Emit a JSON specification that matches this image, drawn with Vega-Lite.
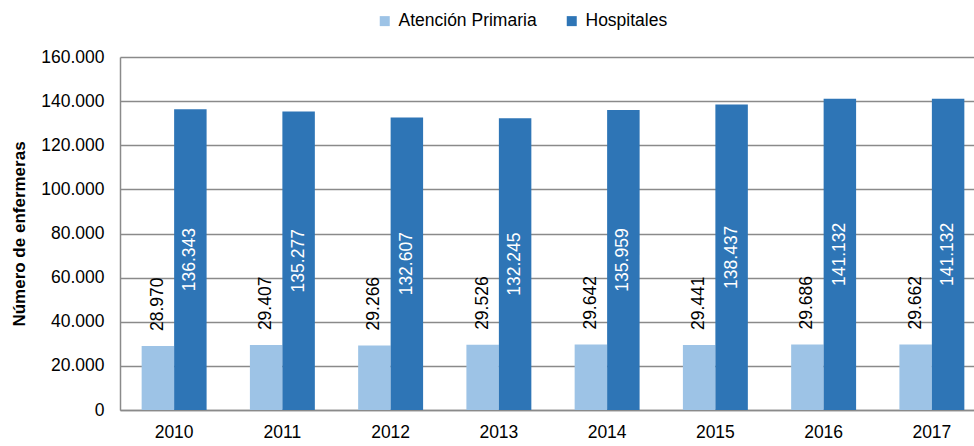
{
  "$schema": "https://vega.github.io/schema/vega-lite/v6.json",
  "width": 854,
  "height": 353,
  "autosize": {"type": "none"},
  "padding": {"left": 120, "top": 57, "right": 0, "bottom": 36},
  "background": "white",
  "config": {
    "locale": {"number": {"decimal": ",", "thousands": ".", "grouping": [3], "currency": ["", " €"]}},
    "view": {"stroke": null},
    "font": "Liberation Sans",
    "text": {"font": "Liberation Sans"}
  },
  "data": {
    "values": [
      {"year": "2010", "serie": "Atención Primaria", "valor": 28970},
      {"year": "2011", "serie": "Atención Primaria", "valor": 29407},
      {"year": "2012", "serie": "Atención Primaria", "valor": 29266},
      {"year": "2013", "serie": "Atención Primaria", "valor": 29526},
      {"year": "2014", "serie": "Atención Primaria", "valor": 29642},
      {"year": "2015", "serie": "Atención Primaria", "valor": 29441},
      {"year": "2016", "serie": "Atención Primaria", "valor": 29686},
      {"year": "2017", "serie": "Atención Primaria", "valor": 29662},
      {"year": "2010", "serie": "Hospitales", "valor": 136343},
      {"year": "2011", "serie": "Hospitales", "valor": 135277},
      {"year": "2012", "serie": "Hospitales", "valor": 132607},
      {"year": "2013", "serie": "Hospitales", "valor": 132245},
      {"year": "2014", "serie": "Hospitales", "valor": 135959},
      {"year": "2015", "serie": "Hospitales", "valor": 138437},
      {"year": "2016", "serie": "Hospitales", "valor": 141132},
      {"year": "2017", "serie": "Hospitales", "valor": 141132}
    ]
  },
  "encoding": {
    "x": {
      "field": "year",
      "type": "nominal",
      "scale": {"range": [0, 866], "paddingInner": 0.4, "paddingOuter": 0.2},
      "axis": {
        "title": null,
        "labelAngle": 0,
        "labelFontSize": 17.5,
        "labelColor": "#000000",
        "labelPadding": 13,
        "ticks": false,
        "domainColor": "#8a8a8a",
        "domainWidth": 1.5,
        "grid": false
      }
    },
    "xOffset": {"field": "serie", "type": "nominal", "scale": {"domain": ["Atención Primaria", "Hospitales"]}}
  },
  "layer": [
    {
      "mark": {"type": "bar"},
      "encoding": {
        "y": {
          "field": "valor",
          "type": "quantitative",
          "scale": {"domain": [0, 160000], "nice": false},
          "axis": {
            "values": [0, 20000, 40000, 60000, 80000, 100000, 120000, 140000, 160000],
            "format": ",.0f",
            "title": "Número de enfermeras",
            "titleFontSize": 17,
            "titleFontWeight": "bold",
            "titleColor": "#000000",
            "titlePadding": 12,
            "labelFontSize": 17.5,
            "labelColor": "#000000",
            "labelPadding": 16,
            "ticks": false,
            "domainColor": "#8a8a8a",
            "domainWidth": 1.5,
            "grid": true,
            "gridColor": "#8a8a8a",
            "gridWidth": 1.5
          }
        },
        "color": {
          "field": "serie",
          "type": "nominal",
          "scale": {"domain": ["Atención Primaria", "Hospitales"], "range": ["#9DC3E6", "#2E75B6"]},
          "legend": {
            "orient": "none",
            "legendX": 256,
            "legendY": -45,
            "direction": "horizontal",
            "title": null,
            "symbolType": "square",
            "symbolSize": 100,
            "symbolStrokeWidth": 0,
            "labelFontSize": 17.5,
            "labelColor": "#000000",
            "labelOffset": 5,
            "columnPadding": 26
          }
        }
      }
    },
    {
      "transform": [{"filter": "datum.serie == 'Atención Primaria'"}],
      "mark": {"type": "text", "angle": 270, "align": "left", "baseline": "middle", "dx": 15, "fontSize": 17.5, "color": "#000000"},
      "encoding": {
        "y": {"field": "valor", "type": "quantitative", "scale": {"domain": [0, 160000], "nice": false}, "axis": null},
        "text": {"field": "valor", "type": "quantitative", "format": ",.0f"}
      }
    },
    {
      "transform": [{"filter": "datum.serie == 'Hospitales'"}],
      "mark": {"type": "text", "angle": 270, "align": "center", "baseline": "middle", "fontSize": 17.5, "color": "#ffffff"},
      "encoding": {
        "y": {"field": "valor", "type": "quantitative", "scale": {"domain": [0, 320000], "nice": false}, "axis": null},
        "text": {"field": "valor", "type": "quantitative", "format": ",.0f"}
      }
    }
  ],
  "resolve": {"scale": {"y": "independent"}}
}
